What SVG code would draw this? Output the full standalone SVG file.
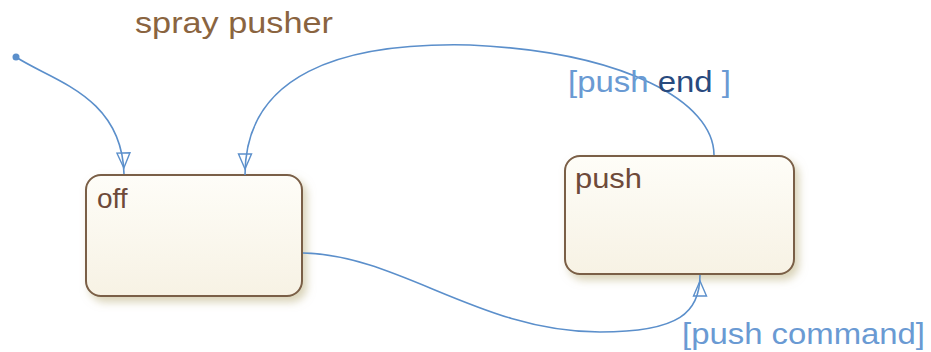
<svg xmlns="http://www.w3.org/2000/svg" width="931" height="352" viewBox="0 0 931 352">
  <style>
    .state { fill: url(#stateFill); stroke: #7a5e46; stroke-width: 2; filter: url(#shadow); }
    .state-name { font-family: "Liberation Sans", Arial, sans-serif; font-size: 28px; fill: #6e4a3a; }
    .title { font-family: "Liberation Sans", Arial, sans-serif; font-size: 29px; fill: #8a6440; }
    .edge { fill: none; stroke: #5b8fcb; stroke-width: 1.6; }
    .label { font-family: "Liberation Sans", Arial, sans-serif; font-size: 29px; fill: #6a9ad3; }
    .label .strong { fill: #284a7e; }
  </style>
  <defs>
    <linearGradient id="stateFill" x1="0" y1="0" x2="0" y2="1">
      <stop offset="0" stop-color="#fefdf8"/>
      <stop offset="1" stop-color="#f7f2e4"/>
    </linearGradient>
    <filter id="shadow" x="-10%" y="-10%" width="125%" height="130%">
      <feDropShadow dx="4" dy="5" stdDeviation="4" flood-color="#b9ad7c" flood-opacity="0.55"/>
    </filter>
    <marker id="open-arrow" markerUnits="userSpaceOnUse" markerWidth="24" markerHeight="16"
            viewBox="-22 -8 24 16" refX="0" refY="0" orient="auto">
      <path d="M-21,-6.5 L-6,0 L-21,6.5 Z" fill="none" stroke="#5b8fcb" stroke-width="1.4"/>
    </marker>
  </defs>

  <text class="title" x="135" y="33" textLength="198" lengthAdjust="spacingAndGlyphs">spray pusher</text>

  <g id="state-off">
    <rect class="state" x="86" y="175" width="216" height="121" rx="15" ry="15"/>
    <text class="state-name" x="97" y="208">off</text>
  </g>

  <g id="state-push">
    <rect class="state" x="565" y="156" width="229" height="118" rx="15" ry="15"/>
    <text class="state-name" x="575" y="188" textLength="67" lengthAdjust="spacingAndGlyphs">push</text>
  </g>

  <g id="transitions">
    <!-- default transition into "off" -->
    <circle cx="16" cy="57" r="3.5" fill="#5b8fcb"/>
    <path class="edge" d="M16,57 C50,80 122,95 124,174" marker-end="url(#open-arrow)"/>
    <!-- push -> off -->
    <path class="edge" d="M714,155 C714,102 625,52 470,45 C340,42 245,75 245,175" marker-end="url(#open-arrow)"/>
    <!-- off -> push -->
    <path class="edge" d="M303,253 C400,255 480,332 600,332 C680,332 700,312 700,275" marker-end="url(#open-arrow)"/>
    <text class="label" x="568" y="92" textLength="163" lengthAdjust="spacingAndGlyphs">[push <tspan class="strong">end</tspan> ]</text>
    <text class="label" x="682" y="344" textLength="243" lengthAdjust="spacingAndGlyphs">[push command]</text>
  </g>
</svg>
